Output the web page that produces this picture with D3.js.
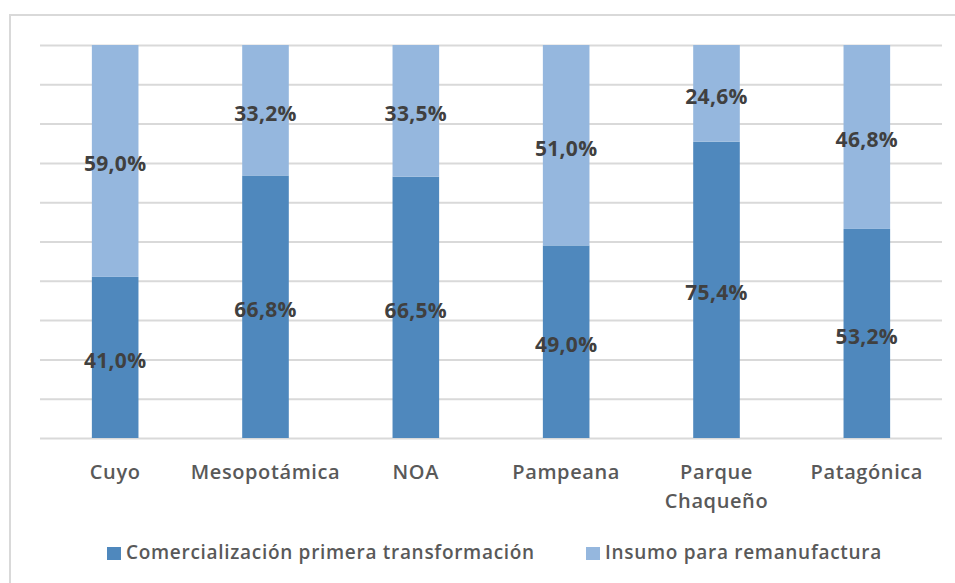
<!DOCTYPE html>
<html>
<head>
<meta charset="utf-8">
<script src="https://cdn.jsdelivr.net/npm/d3@7"></script>
<style>
    body { margin: 0; background: #fff; }
    svg { display: block; font-family: "Open Sans", sans-serif; }
</style>
</head>
<body>
<div id="chart"></div>
<script>
// Regions and shares (percent)
const regions = ["Cuyo", "Mesopotámica", "NOA", "Pampeana", "Parque Chaqueño", "Patagónica"];
const regionLines = [["Cuyo"], ["Mesopotámica"], ["NOA"], ["Pampeana"], ["Parque", "Chaqueño"], ["Patagónica"]];
const comercializacion = [41.0, 66.8, 66.5, 49.0, 75.4, 53.2];
const insumo = [59.0, 33.2, 33.5, 51.0, 24.6, 46.8];
const seriesNames = ["Comercialización primera transformación", "Insumo para remanufactura"];
const seriesColors = ["#4f88bd", "#95b7de"];
const gridTicks = d3.range(0, 101, 10);

const width = 955, height = 583;
const margin = { top: 45, right: 13, bottom: 145, left: 40 };
const innerW = width - margin.left - margin.right;
const innerH = height - margin.top - margin.bottom;

const svg = d3.select("#chart")
    .append("svg")
    .attr("width", width)
    .attr("height", height);

// outer frame (only top and left visible in the original)
svg.append("path")
    .attr("d", `M10,${height} L10,15 L${width},15`)
    .attr("fill", "none")
    .attr("stroke", "#d9d9d9")
    .attr("stroke-width", 2);

const g = svg.append("g")
    .attr("transform", `translate(${margin.left},${margin.top})`);

const x = d3.scaleBand()
    .domain(regions)
    .range([0, innerW]);

const y = d3.scaleLinear()
    .domain([0, 100])
    .range([innerH, 0]);

const barW = x.bandwidth() * 0.31;

// gridlines
g.append("g")
    .call(d3.axisLeft(y).tickValues(gridTicks).tickSize(-innerW).tickFormat(""))
    .call(a => a.select(".domain").remove())
    .selectAll("line")
    .attr("stroke", "#d9d9d9")
    .attr("stroke-width", 2);

// stacked data
const rows = regions.map((r, i) => ({ region: r, a: comercializacion[i], b: insumo[i] }));
const stack = d3.stack().keys(["a", "b"])(rows);

stack.forEach((layer, li) => {
    const grp = g.append("g");
    grp.selectAll("rect")
        .data(layer)
        .enter()
        .append("rect")
        .attr("x", d => x(d.data.region) + (x.bandwidth() - barW) / 2)
        .attr("width", barW)
        .attr("y", d => y(d[1]))
        .attr("height", d => y(d[0]) - y(d[1]))
        .attr("fill", seriesColors[li]);

    grp.selectAll("text")
        .data(layer)
        .enter()
        .append("text")
        .attr("x", d => x(d.data.region) + x.bandwidth() / 2)
        .attr("y", d => (y(d[0]) + y(d[1])) / 2 + 3)
        .attr("dy", "0.35em")
        .attr("text-anchor", "middle")
        .attr("font-size", 21)
        .attr("font-weight", 700)
        .attr("letter-spacing", 0.3)
        .attr("fill", "#404040")
        .text(d => (d[1] - d[0]).toFixed(1).replace(".", ",") + "%");
});

// category labels
const xAxis = g.append("g")
    .attr("transform", `translate(0,${innerH})`);
regions.forEach((r, i) => {
    const t = xAxis.append("text")
        .attr("x", x(r) + x.bandwidth() / 2)
        .attr("y", 41)
        .attr("text-anchor", "middle")
        .attr("font-size", 20)
        .attr("font-weight", 600)
        .attr("letter-spacing", 0.6)
        .attr("fill", "#595959");
    regionLines[i].forEach((line, li) => {
        t.append("tspan")
            .attr("x", x(r) + x.bandwidth() / 2)
            .attr("dy", li === 0 ? 0 : 29)
            .text(line);
    });
});

// legend
const legendX = [107, 586];
const legend = svg.append("g");
seriesNames.forEach((name, i) => {
    legend.append("rect")
        .attr("x", legendX[i])
        .attr("y", 547)
        .attr("width", 14)
        .attr("height", 13)
        .attr("fill", seriesColors[i]);
    legend.append("text")
        .attr("x", legendX[i] + 19)
        .attr("y", 559)
        .attr("font-size", 19)
        .attr("font-weight", 600)
        .attr("letter-spacing", 0.7)
        .attr("fill", "#595959")
        .text(name);
});
</script>
</body>
</html>
